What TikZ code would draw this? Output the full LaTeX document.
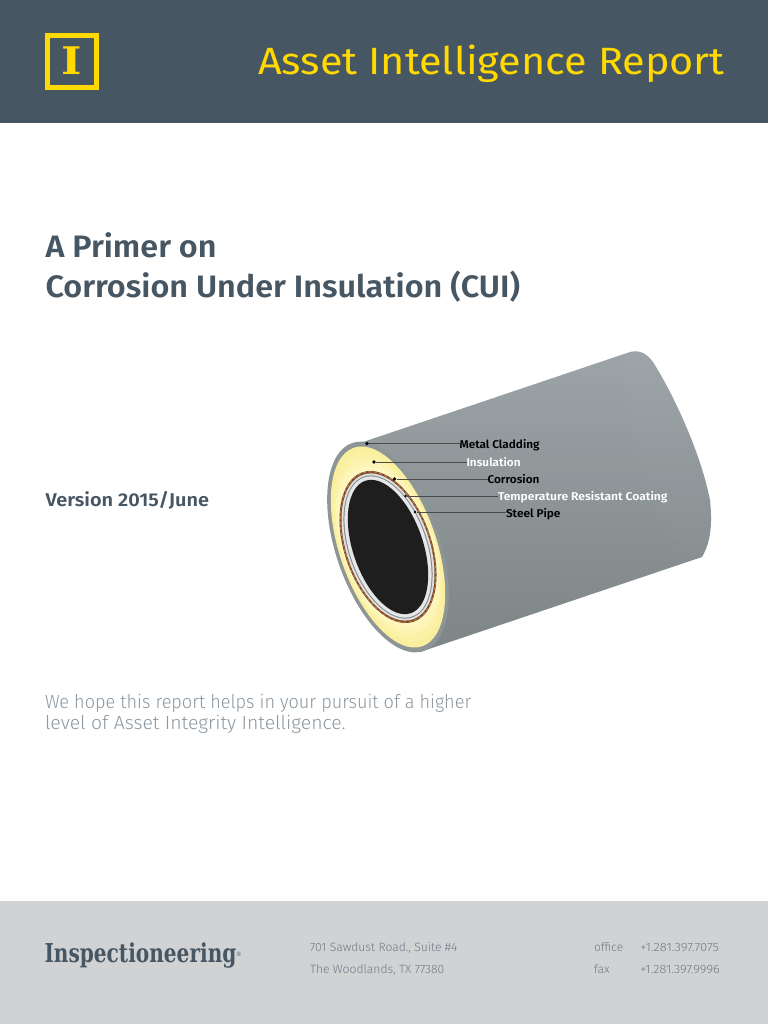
\documentclass[tikz,border=0pt]{standalone}
\usepackage{fontspec}
\setmainfont{Fira Sans}
\newfontfamily\lightf{Fira Sans Light}
\newfontfamily\semif{Fira Sans SemiBold}
\newfontfamily\slabf{DejaVu Serif Condensed}
\newfontfamily\logof{DejaVu Serif}
\definecolor{slate}{HTML}{475663}
\definecolor{gold}{HTML}{FFD900}
\definecolor{foot}{HTML}{D0D2D4}
\definecolor{soft}{HTML}{8C979F}
\definecolor{addr}{HTML}{6F7B85}
\definecolor{caprim}{HTML}{8D9597}
\definecolor{pipetop}{HTML}{9CA4A7}
\definecolor{pipebot}{HTML}{7D8587}
\definecolor{ya}{HTML}{F9EF9E}
\definecolor{yb}{HTML}{FBF2A8}
\definecolor{yc}{HTML}{FCF5B6}
\definecolor{yd}{HTML}{FDF7C4}
\definecolor{rust}{HTML}{7A4A2C}
\definecolor{rustb}{HTML}{C87A3C}
\definecolor{ringa}{HTML}{DEE0E1}
\definecolor{ringb}{HTML}{828688}
\definecolor{ringc}{HTML}{E4E6E7}
\definecolor{bore}{HTML}{1E1E1E}
\tikzset{
  txt/.style={anchor=base west,inner sep=0pt,outer sep=0pt,transform shape},
  headtxt/.style={txt,text=gold,font=\rmfamily\fontsize{38}{38}\selectfont},
  titletxt/.style={txt,text=slate,font=\semif\fontsize{31}{31}\selectfont},
  versiontxt/.style={txt,text=slate,font=\semif\fontsize{18.5}{18.5}\selectfont},
  softtxt/.style={txt,text=soft,font=\lightf\fontsize{19}{19}\selectfont},
  addrtxt/.style={txt,text=addr,font=\lightf\fontsize{12}{12}\selectfont},
  lab/.style={txt,text=black,font=\semif\fontsize{11.3}{11.3}\selectfont},
  labw/.style={lab,text=white},
  leader/.style={draw=black!70,line width=.9pt},
  dot/.style={circle,fill=black,inner sep=0pt,minimum size=3.6pt},
}
\begin{document}
\begin{tikzpicture}[x=1pt,y=-1pt]
\useasboundingbox (0,0) rectangle (768,1024);
\fill[white] (0,0) rectangle (768,1024);
\fill[slate] (0,0) rectangle (768,123);
\fill[foot] (0,901) rectangle (768,1024);
% logo
\draw[gold,line width=4.6pt] (47.5,35.5) rectangle (96.5,87.5);
\node[txt,anchor=base,xscale=1.15,text=gold,font=\logof\bfseries\fontsize{38}{38}\selectfont] (logoI) at (72,75) {I};
\node[headtxt,xscale=1.09] (head) at (258,75) {Asset Intelligence Report};
\node[titletxt,xscale=1.044] (t1) at (45.5,257) {A Primer on};
\node[titletxt,xscale=1.044] (t2) at (45.5,297) {Corrosion Under Insulation (CUI)};
\node[versiontxt,xscale=1.076] (ver) at (45.5,506) {Version 2015/June};
\node[softtxt,xscale=.953] (s1) at (45,708) {We hope this report helps in your pursuit of a higher};
\node[softtxt,xscale=1.02] (s2) at (45,729) {level of Asset Integrity Intelligence.};
% pipe body
\shade[top color=pipetop,bottom color=pipebot]
  (345,447) .. controls (352,443) and (358,444) .. (366,441) -- (627,353)
  .. controls (637,349) and (646,352) .. (653,362)
  .. controls (672,392) and (700,450) .. (710,500)
  .. controls (712,520) and (712,540) .. (702,557)
  -- (420,652) .. controls (400,652) and (385,640) .. (370,620) -- (340,560) -- cycle;
\fill[white,opacity=.015] (622,355) -- (627,353)
  .. controls (637,349) and (646,352) .. (653,362)
  .. controls (672,392) and (700,450) .. (710,500)
  .. controls (712,520) and (712,540) .. (702,557)
  -- (684,553) .. controls (650,510) and (625,440) .. (622,355) -- cycle;
\coordinate (c) at (388,547);
\fill[caprim] (c) ellipse [x radius=52pt,y radius=110pt,rotate=19];
\fill[ya] (c) ellipse [x radius=48.5pt,y radius=105pt,rotate=19];
\fill[yb] (c) ellipse [x radius=47pt,y radius=98pt,rotate=19];
\fill[yc] (c) ellipse [x radius=46pt,y radius=90pt,rotate=19];
\fill[yd] (c) ellipse [x radius=45pt,y radius=83pt,rotate=19];
\fill[rust] (c) ellipse [x radius=43.5pt,y radius=79pt,rotate=19];
\draw[rustb,line width=1pt,dash pattern=on 3pt off 2.5pt] (c) ellipse [x radius=42.7pt,y radius=78.2pt,rotate=19];
\fill[ringa] (c) ellipse [x radius=41.5pt,y radius=76.5pt,rotate=19];
\fill[ringb] (c) ellipse [x radius=39.5pt,y radius=74.5pt,rotate=19];
\fill[ringc] (c) ellipse [x radius=38.5pt,y radius=73.5pt,rotate=19];
\fill[bore] (c) ellipse [x radius=35pt,y radius=70pt,rotate=19];
% leaders
\node[lab,xscale=1.045] (l1) at (459.5,448) {Metal Cladding};
\node[labw,xscale=1.045] (l2) at (466.5,466) {Insulation};
\node[lab,xscale=1.045] (l3) at (487.5,483) {Corrosion};
\node[labw,xscale=1.07] (l4) at (498,500) {Temperature Resistant Coating};
\node[lab,xscale=1.05] (l5) at (506,517) {Steel Pipe};
\node[dot] (d1) at (367,443.5) {};
\node[dot] (d2) at (374,462) {};
\node[dot] (d3) at (394.5,479) {};
\node[dot,minimum size=2.6pt] (d4) at (405.5,496) {};
\node[dot,minimum size=2.6pt] (d5) at (415,512) {};
\draw[leader] (d1) -- (d1 -| l1.west);
\draw[leader] (d2) -- (d2 -| l2.west);
\draw[leader] (d3) -- (d3 -| l3.west);
\draw[leader] (d4) -- (d4 -| l4.west);
\draw[leader] (d5) -- (d5 -| l5.west);
% footer
\node[txt,xscale=.86,text=slate,font=\slabf\bfseries\fontsize{26}{26}\selectfont] (brand) at (44.5,962) {Inspectioneering};
\node[txt,text=slate,font=\slabf\fontsize{6}{6}\selectfont] (reg) at (236,956) {®};
\node[addrtxt,xscale=1.01] (a1) at (310,951) {701 Sawdust Road., Suite \#4};
\node[addrtxt,xscale=1.01] (a2) at (310,973) {The Woodlands, TX 77380};
\node[addrtxt] (o1) at (594,951) {office};
\node[addrtxt] (o2) at (594,973) {fax};
\node[addrtxt,xscale=1.09] (p1) at (640,951) {+1.281.397.7075};
\node[addrtxt,xscale=1.07] (p2) at (640,973) {+1.281.397.9996};
\end{tikzpicture}
\end{document}
